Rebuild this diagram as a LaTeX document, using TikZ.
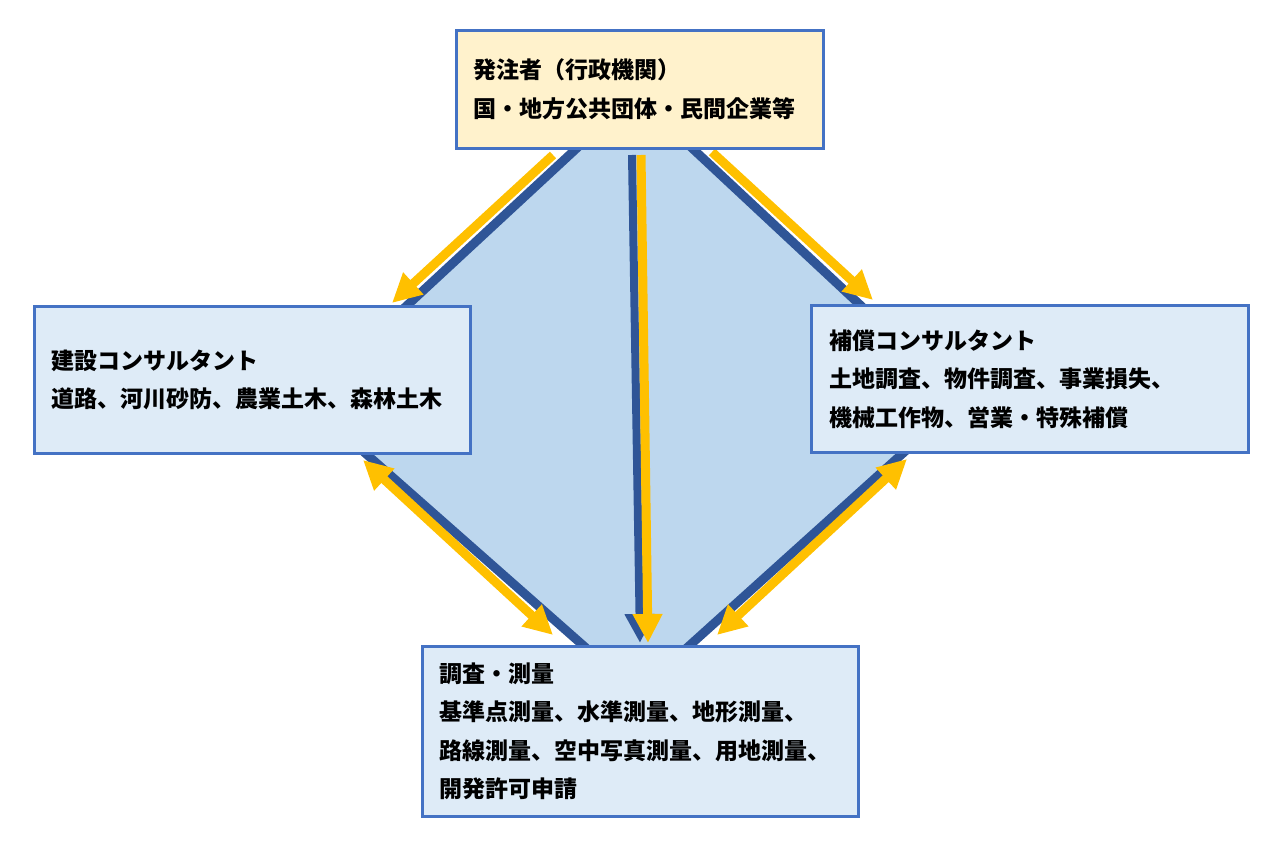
\documentclass[tikz,border=0pt]{standalone}
\usepackage{fontspec}
\setmainfont{Noto Sans CJK JP}
\usetikzlibrary{arrows.meta}
\definecolor{boxline}{HTML}{4472C4}
\definecolor{topfill}{HTML}{FFF2CC}
\definecolor{boxfill}{HTML}{DEEBF7}
\definecolor{polyfill}{HTML}{BDD7EE}
\definecolor{darkblue}{HTML}{2F5597}
\definecolor{gold}{HTML}{FFC000}
\tikzset{
  box/.style={draw=boxline, line width=3pt, fill=boxfill, inner xsep=17pt, inner ysep=0pt,
    align=left, anchor=north west, font=\bfseries\fontsize{23pt}{38.5pt}\selectfont},
  goldarrow/.style={draw=gold, line width=9pt, -{Triangle[width=28pt,length=29pt]}},
  golddouble/.style={draw=gold, line width=9pt, {Triangle[width=28pt,length=29pt]}-{Triangle[width=28pt,length=29pt]}},
  darkarrow/.style={draw=darkblue, line width=8pt, -{Triangle[width=28pt,length=29pt]}},
  polyedge/.style={draw=darkblue, line width=9pt, line join=miter, fill=polyfill}
}
\begin{document}
\begin{tikzpicture}[x=1pt,y=-1pt]
\useasboundingbox (0,0) rectangle (1280,845);
% background polygon
\coordinate (p1) at (591,135);
\coordinate (p2) at (305,400);
\coordinate (p3) at (594,655);
\coordinate (p4) at (679,655);
\coordinate (p5) at (962,400);
\coordinate (p6) at (678,135);
\path[polyedge] (p1) -- (p2) -- (p3) -- (p4) -- (p5) -- (p6) -- cycle;
% arrow end points
\coordinate (a1s) at (553,155); \coordinate (a1e) at (392,303);
\coordinate (a2s) at (712,152); \coordinate (a2e) at (873,300);
\coordinate (c1s) at (632,155); \coordinate (c1e) at (640,643);
\coordinate (c2s) at (641,155); \coordinate (c2e) at (648,643);
\coordinate (l1) at (363,460); \coordinate (l2) at (553,635);
\coordinate (r1) at (907,459); \coordinate (r2) at (717,635);
\draw[darkarrow] (c1s) -- (c1e);
\draw[goldarrow] (c2s) -- (c2e);
\draw[goldarrow] (a1s) -- (a1e);
\draw[goldarrow] (a2s) -- (a2e);
\draw[golddouble] (l1) -- (l2);
\draw[golddouble] (r1) -- (r2);
% boxes
\node[box, fill=topfill, minimum width=367pt, minimum height=118pt, text width=333pt] (top) at (455,29)
  {発注者（行政機関）\\国・地方公共団体・民間企業等};
\node[box, minimum width=436pt, minimum height=147pt, text width=402pt] (left) at (33,305)
  {建設コンサルタント\\道路、河川砂防、農業土木、森林土木};
\node[box, minimum width=437pt, minimum height=147pt, text width=402pt] (right) at (810,304)
  {補償コンサルタント\\土地調査、物件調査、事業損失、\\機械工作物、営業・特殊補償};
\node[box, minimum width=436pt, minimum height=170pt, text width=402pt] (bottom) at (421,645)
  {調査・測量\\基準点測量、水準測量、地形測量、\\路線測量、空中写真測量、用地測量、\\開発許可申請};
\end{tikzpicture}
\end{document}
